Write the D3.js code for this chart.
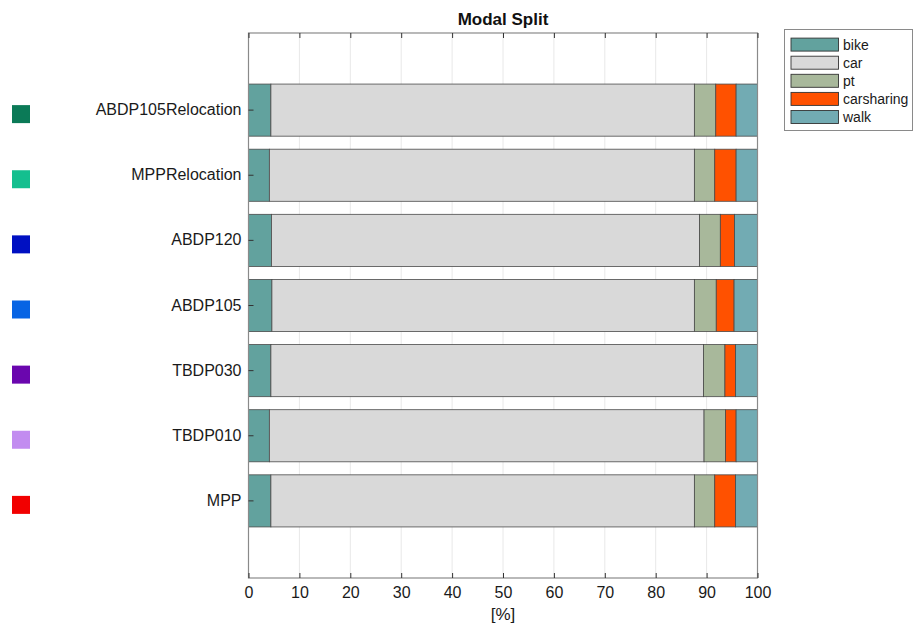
<!DOCTYPE html>
<html>
<head>
<meta charset="utf-8">
<script src="https://cdn.jsdelivr.net/npm/d3@7"></script>
<style>
  html, body { margin: 0; padding: 0; background: #fff; }
  svg { display: block; font-family: "Liberation Sans", Arial, Helvetica, sans-serif; }
</style>
</head>
<body>
<svg id="chart" width="914" height="627"></svg>
<script>
// Scenarios, top to bottom
const scenarios = ["ABDP105Relocation", "MPPRelocation", "ABDP120", "ABDP105", "TBDP030", "TBDP010", "MPP"];
const scenarioColors = ["#0b7a57", "#14bf8f", "#0010c2", "#0764e4", "#6a06ae", "#c28cf0", "#f20000"];

// Mode shares in percent, one value per scenario
const modes = ["bike", "car", "pt", "carsharing", "walk"];
const modeColors = ["#62a29e", "#d9d9d9", "#a8b89b", "#ff5100", "#72abb3"];
const bike       = [4.4, 4.1, 4.5, 4.6, 4.4, 4.1, 4.4];
const car        = [83.2, 83.5, 84.1, 83.0, 85.0, 85.4, 83.2];
const pt         = [4.2, 4.0, 4.1, 4.3, 4.2, 4.2, 4.0];
const carsharing = [4.0, 4.2, 2.8, 3.5, 2.1, 2.1, 4.1];
const walk       = [4.2, 4.2, 4.5, 4.6, 4.3, 4.2, 4.3];

const xTicks = [0, 10, 20, 30, 40, 50, 60, 70, 80, 90, 100];
const title = "Modal Split";
const xLabel = "[%]";

const seriesByMode = { bike, car, pt, carsharing, walk };
const rows = scenarios.map((s, i) => {
  const r = { scenario: s };
  modes.forEach(m => { r[m] = seriesByMode[m][i]; });
  return r;
});

const svg = d3.select("#chart");
const plot = { left: 248.5, right: 757.5, top: 33, bottom: 578 };

const x = d3.scaleLinear().domain([0, 100]).range([plot.left, plot.right]);
const y = d3.scaleBand().domain(scenarios).range([plot.top, plot.bottom])
  .paddingInner(0.2).paddingOuter(0.784);

const axisColor = "#8a8a8a";
const font = "Liberation Sans, Arial, sans-serif";

// vertical grid lines
svg.append("g").selectAll("line").data(xTicks.slice(1, -1)).join("line")
  .attr("x1", d => x(d)).attr("x2", d => x(d))
  .attr("y1", plot.top).attr("y2", plot.bottom)
  .attr("stroke", "#e8e8e8").attr("stroke-width", 1);

// stacked bars
const stack = d3.stack().keys(modes);
const layers = stack(rows);
const colorOf = d3.scaleOrdinal().domain(modes).range(modeColors);

svg.append("g").selectAll("g").data(layers).join("g")
  .attr("fill", d => colorOf(d.key))
  .selectAll("rect").data(d => d).join("rect")
  .attr("x", d => x(d[0]))
  .attr("width", d => x(d[1]) - x(d[0]))
  .attr("y", d => y(d.data.scenario))
  .attr("height", y.bandwidth())
  .attr("stroke", "#4a4a4a").attr("stroke-width", 0.8);

// box and axes
svg.append("rect")
  .attr("x", plot.left).attr("y", plot.top)
  .attr("width", plot.right - plot.left).attr("height", plot.bottom - plot.top)
  .attr("fill", "none").attr("stroke", axisColor).attr("stroke-width", 1.2);

// x ticks (inward, top and bottom)
const xAxisBottom = d3.axisBottom(x).tickValues(xTicks).tickSize(-5).tickPadding(9).tickFormat(d3.format("d"));
const gxb = svg.append("g").attr("transform", `translate(0,${plot.bottom})`).call(xAxisBottom);
gxb.select(".domain").remove();
gxb.selectAll(".tick line").attr("stroke", "#333");
gxb.selectAll(".tick text").attr("font-size", 16).attr("fill", "#1a1a1a").attr("font-family", font);

const xAxisTop = d3.axisTop(x).tickValues(xTicks).tickSize(-5).tickFormat("");
const gxt = svg.append("g").attr("transform", `translate(0,${plot.top})`).call(xAxisTop);
gxt.select(".domain").remove();
gxt.selectAll(".tick line").attr("stroke", "#333");

// y ticks and labels
const yAxis = d3.axisLeft(y).tickSize(-5).tickPadding(7);
const gy = svg.append("g").attr("transform", `translate(${plot.left},0)`).call(yAxis);
gy.select(".domain").remove();
gy.selectAll(".tick line").attr("stroke", "#333");
gy.selectAll(".tick text").attr("font-size", 16).attr("fill", "#1a1a1a").attr("font-family", font);

// scenario colour markers
svg.append("g").selectAll("rect").data(scenarios).join("rect")
  .attr("x", 12).attr("width", 18)
  .attr("y", d => y(d) + y.bandwidth() / 2 - 5).attr("height", 18)
  .attr("fill", (d, i) => scenarioColors[i]);

// title and axis label
svg.append("text").attr("x", (plot.left + plot.right) / 2).attr("y", 25)
  .attr("text-anchor", "middle").attr("font-size", 17).attr("font-weight", "bold")
  .attr("fill", "#111").text(title);
svg.append("text").attr("x", (plot.left + plot.right) / 2).attr("y", 620)
  .attr("text-anchor", "middle").attr("font-size", 17)
  .attr("fill", "#1a1a1a").text(xLabel);

// legend
const legend = svg.append("g");
legend.append("rect").attr("x", 784.5).attr("y", 29.5).attr("width", 128).attr("height", 101)
  .attr("fill", "#fff").attr("stroke", axisColor).attr("stroke-width", 1);
const item = legend.selectAll("g.item").data(modes).join("g").attr("class", "item")
  .attr("transform", (d, i) => `translate(0,${44.6 + i * 18.1})`);
item.append("rect").attr("x", 791).attr("y", -6.5).attr("width", 47.5).attr("height", 13)
  .attr("fill", d => colorOf(d)).attr("stroke", "#333").attr("stroke-width", 0.9);
item.append("text").attr("x", 843).attr("y", 5).attr("font-size", 14)
  .attr("fill", "#1a1a1a").text(d => d);
</script>
</body>
</html>
